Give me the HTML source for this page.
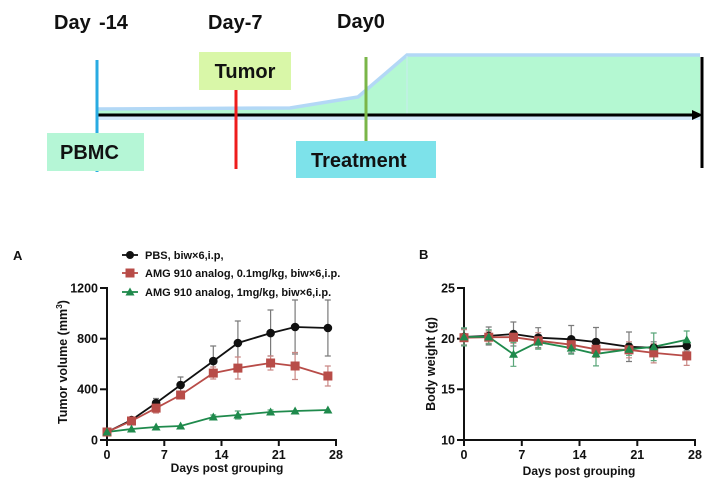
<!DOCTYPE html>
<html><head><meta charset="utf-8"><style>
html,body{margin:0;padding:0;background:#fff;}
svg{display:block;}
text{font-family:"Liberation Sans",Arial,sans-serif;font-weight:bold;}
</style></head><body>
<svg width="724" height="487" viewBox="0 0 724 487" xmlns="http://www.w3.org/2000/svg">
<rect width="724" height="487" fill="#fff"/>
<!-- Timeline -->
<line x1="97" y1="116" x2="700" y2="116" stroke="#d6eafb" stroke-width="8"/>
<polygon points="97,115 97,109 290,108 358,97 407,55 700,55 700,115" fill="#b4f8d2"/>
<polyline points="97,109 290,108 358,97 407,55 700,55" fill="none" stroke="#b3d8f6" stroke-width="3.5"/>
<line x1="407" y1="56" x2="407" y2="114" stroke="#c8ecf0" stroke-width="1"/>
<line x1="97" y1="115" x2="696" y2="115" stroke="#000" stroke-width="3"/>
<polygon points="692,110 703,115 692,120" fill="#000"/>
<line x1="702" y1="57" x2="702" y2="168" stroke="#000" stroke-width="3"/>
<line x1="97" y1="60" x2="97" y2="172" stroke="#29abe2" stroke-width="3"/>
<line x1="236" y1="89" x2="236" y2="169" stroke="#ee1c1c" stroke-width="3"/>
<line x1="366" y1="57" x2="366" y2="141" stroke="#7ab648" stroke-width="3"/>
<rect x="199" y="52" width="92" height="38" fill="#d9f7a8"/>
<rect x="47" y="133" width="97" height="38" fill="#b5f6d6"/>
<rect x="296" y="141" width="140" height="37" fill="#7de2ea"/>
<text x="245" y="78" font-size="20" text-anchor="middle" fill="#111">Tumor</text>
<text x="60" y="159" font-size="20" fill="#111">PBMC</text>
<text x="311" y="167" font-size="20" fill="#111">Treatment</text>
<text x="54" y="29" font-size="20" fill="#111">Day</text>
<text x="99" y="29" font-size="20" fill="#111">-14</text>
<text x="208" y="29" font-size="20" fill="#111">Day-7</text>
<text x="337" y="28" font-size="20" fill="#111">Day0</text>

<!-- Chart A -->
<text x="13" y="260" font-size="13" fill="#111">A</text>
<g stroke="#111" stroke-width="2" fill="none">
<line x1="107" y1="287" x2="107" y2="441"/>
<line x1="106" y1="440" x2="337" y2="440"/>
<line x1="100" y1="288" x2="107" y2="288"/>
<line x1="100" y1="338.7" x2="107" y2="338.7"/>
<line x1="100" y1="389.3" x2="107" y2="389.3"/>
<line x1="100" y1="440" x2="107" y2="440"/>
<line x1="107" y1="440" x2="107" y2="446"/>
<line x1="164.3" y1="440" x2="164.3" y2="446"/>
<line x1="221.5" y1="440" x2="221.5" y2="446"/>
<line x1="278.8" y1="440" x2="278.8" y2="446"/>
<line x1="336" y1="440" x2="336" y2="446"/>
</g>
<g font-size="12.5" fill="#111" text-anchor="end">
<text x="98" y="292.5">1200</text>
<text x="98" y="343">800</text>
<text x="98" y="393.7">400</text>
<text x="98" y="444.5">0</text>
</g>
<g font-size="12.5" fill="#111" text-anchor="middle">
<text x="107" y="459">0</text>
<text x="164.3" y="459">7</text>
<text x="221.5" y="459">14</text>
<text x="278.8" y="459">21</text>
<text x="336" y="459">28</text>
</g>
<text x="227" y="472" font-size="12" text-anchor="middle" fill="#111">Days post grouping</text>
<text transform="translate(67,362) rotate(-90)" font-size="12.5" text-anchor="middle" fill="#111">Tumor volume (mm<tspan font-size="8.5" dy="-5">3</tspan><tspan dy="5">)</tspan></text>

<!-- Legend -->
<g stroke-width="1.8">
<line x1="122" y1="255" x2="138" y2="255" stroke="#111"/>
<circle cx="130" cy="255" r="4" fill="#111"/>
<line x1="122" y1="273" x2="138" y2="273" stroke="#b84c48"/>
<rect x="125.5" y="268.5" width="9" height="9" fill="#b84c48"/>
<line x1="122" y1="292" x2="138" y2="292" stroke="#1f8a4c"/>
<polygon points="130,287.5 134.5,295.5 125.5,295.5" fill="#1f8a4c"/>
</g>
<g font-size="11" fill="#111">
<text x="145" y="259">PBS, biw×6,i.p,</text>
<text x="145" y="277">AMG 910 analog, 0.1mg/kg, biw×6,i.p.</text>
<text x="145" y="296">AMG 910 analog, 1mg/kg, biw×6,i.p.</text>
</g>

<!-- A error bars -->
<g stroke="#7a7a7a" stroke-width="1.2" fill="none">
<path d="M156.1,398.5V407.5M153,398.5h6M153,407.5h6"/>
<path d="M180.6,377V393M177.5,377h6M177.5,393h6"/>
<path d="M213.3,346V376M210.2,346h6M210.2,376h6"/>
<path d="M237.9,321V365M234.8,321h6M234.8,365h6"/>
<path d="M270.6,310V356M267.5,310h6M267.5,356h6"/>
<path d="M295.1,300V354M292,300h6M292,354h6"/>
<path d="M327.9,300V356M324.8,300h6M324.8,356h6"/>
</g>
<g stroke="#c98885" stroke-width="1.2" fill="none">
<path d="M156.1,403V413M153,403h6M153,413h6"/>
<path d="M180.6,392V398M177.5,392h6M177.5,398h6"/>
<path d="M213.3,367V379M210.2,367h6M210.2,379h6"/>
<path d="M237.9,357V379M234.8,357h6M234.8,379h6"/>
<path d="M270.6,356V370M267.5,356h6M267.5,370h6"/>
<path d="M295.1,352.5V379.5M292,352.5h6M292,379.5h6"/>
<path d="M327.9,366V386M324.8,366h6M324.8,386h6"/>
</g>
<g stroke="#5aa67a" stroke-width="1.2" fill="none">
<path d="M213.3,415V419M210.2,415h6"/>
<path d="M237.9,411V419M234.8,411h6M234.8,419h6"/>
<path d="M270.6,410V414M267.5,410h6"/>
</g>
<!-- A lines -->
<polyline points="107,432 131.5,420 156.1,403 180.6,385 213.3,361.1 237.9,343 270.6,333.1 295.1,327 327.9,328" fill="none" stroke="#111" stroke-width="1.8"/>
<polyline points="107,432 131.5,421 156.1,408.1 180.6,395 213.3,373.1 237.9,368.1 270.6,363 295.1,366 327.9,376" fill="none" stroke="#b84c48" stroke-width="1.8"/>
<polyline points="107,432 131.5,429 156.1,427 180.6,426 213.3,417 237.9,415 270.6,412 295.1,411 327.9,410" fill="none" stroke="#1f8a4c" stroke-width="1.8"/>
<g fill="#111">
<circle cx="107" cy="432" r="4.3"/><circle cx="131.5" cy="420" r="4.3"/><circle cx="156.1" cy="403" r="4.3"/><circle cx="180.6" cy="385" r="4.3"/><circle cx="213.3" cy="361.1" r="4.3"/><circle cx="237.9" cy="343" r="4.3"/><circle cx="270.6" cy="333.1" r="4.3"/><circle cx="295.1" cy="327" r="4.3"/><circle cx="327.9" cy="328" r="4.3"/>
</g>
<g fill="#b84c48">
<rect x="102.5" y="427.5" width="9" height="9"/><rect x="127" y="416.5" width="9" height="9"/><rect x="151.6" y="403.6" width="9" height="9"/><rect x="176.1" y="390.5" width="9" height="9"/><rect x="208.8" y="368.6" width="9" height="9"/><rect x="233.4" y="363.6" width="9" height="9"/><rect x="266.1" y="358.5" width="9" height="9"/><rect x="290.6" y="361.5" width="9" height="9"/><rect x="323.4" y="371.5" width="9" height="9"/>
</g>
<g fill="#1f8a4c">
<polygon points="107,427.5 111.5,435.5 102.5,435.5"/><polygon points="131.5,424.5 136,432.5 127,432.5"/><polygon points="156.1,422.5 160.6,430.5 151.6,430.5"/><polygon points="180.6,421.5 185.1,429.5 176.1,429.5"/><polygon points="213.3,412.5 217.8,420.5 208.8,420.5"/><polygon points="237.9,410.5 242.4,418.5 233.4,418.5"/><polygon points="270.6,407.5 275.1,415.5 266.1,415.5"/><polygon points="295.1,406.5 299.6,414.5 290.6,414.5"/><polygon points="327.9,405.5 332.4,413.5 323.4,413.5"/>
</g>

<!-- Chart B -->
<text x="419" y="259" font-size="13" fill="#111">B</text>
<g stroke="#111" stroke-width="2" fill="none">
<line x1="464" y1="287" x2="464" y2="441"/>
<line x1="463" y1="440" x2="696" y2="440"/>
<line x1="457" y1="288" x2="464" y2="288"/>
<line x1="457" y1="338.7" x2="464" y2="338.7"/>
<line x1="457" y1="389.3" x2="464" y2="389.3"/>
<line x1="457" y1="440" x2="464" y2="440"/>
<line x1="464" y1="440" x2="464" y2="446"/>
<line x1="521.8" y1="440" x2="521.8" y2="446"/>
<line x1="579.5" y1="440" x2="579.5" y2="446"/>
<line x1="637.3" y1="440" x2="637.3" y2="446"/>
<line x1="695" y1="440" x2="695" y2="446"/>
</g>
<g font-size="12.5" fill="#111" text-anchor="end">
<text x="455" y="292.5">25</text>
<text x="455" y="343">20</text>
<text x="455" y="393.7">15</text>
<text x="455" y="444.5">10</text>
</g>
<g font-size="12.5" fill="#111" text-anchor="middle">
<text x="464" y="459">0</text>
<text x="521.8" y="459">7</text>
<text x="579.5" y="459">14</text>
<text x="637.3" y="459">21</text>
<text x="695" y="459">28</text>
</g>
<text x="579" y="475" font-size="12" text-anchor="middle" fill="#111">Days post grouping</text>
<text transform="translate(435,364) rotate(-90)" font-size="12.5" text-anchor="middle" fill="#111">Body weight (g)</text>

<!-- B error bars -->
<g stroke="#7a7a7a" stroke-width="1.2" fill="none">
<path d="M464,329V345M461,329h6M461,345h6"/>
<path d="M488.75,327V345M485.7,327h6M485.7,345h6"/>
<path d="M513.5,322V346M510.4,322h6M510.4,346h6"/>
<path d="M538.25,327.7V347.7M535.2,327.7h6M535.2,347.7h6"/>
<path d="M571.25,325.5V353M568.2,325.5h6M568.2,353h6"/>
<path d="M596,327.5V356.5M593,327.5h6M593,356.5h6"/>
<path d="M629,332V361.5M626,332h6M626,361.5h6"/>
<path d="M653.75,341.8V353.8M650.7,341.8h6M650.7,353.8h6"/>
<path d="M686.75,340.8V350.8M683.7,340.8h6M683.7,350.8h6"/>
</g>
<g stroke="#c98885" stroke-width="1.2" fill="none">
<path d="M464,329.7V345.7M461,329.7h6M461,345.7h6"/>
<path d="M488.75,331.2V343.2M485.7,331.2h6M485.7,343.2h6"/>
<path d="M513.5,331.2V343.2M510.4,331.2h6M510.4,343.2h6"/>
<path d="M538.25,332.7V348.7M535.2,332.7h6M535.2,348.7h6"/>
<path d="M571.25,338.7V350.7M568.2,338.7h6M568.2,350.7h6"/>
<path d="M596,341.3V357.3M593,341.3h6M593,357.3h6"/>
<path d="M629,341.8V357.8M626,341.8h6M626,357.8h6"/>
<path d="M653.75,343.9V362.9M650.7,343.9h6M650.7,362.9h6"/>
<path d="M686.75,346.4V365.4M683.7,346.4h6M683.7,365.4h6"/>
</g>
<g stroke="#5aa67a" stroke-width="1.2" fill="none">
<path d="M464,327.9V345.9M461,327.9h6M461,345.9h6"/>
<path d="M488.75,329.9V343.9M485.7,329.9h6M485.7,343.9h6"/>
<path d="M513.5,342.3V366.3M510.4,342.3h6M510.4,366.3h6"/>
<path d="M538.25,335.1V349.1M535.2,335.1h6M535.2,349.1h6"/>
<path d="M571.25,342.1V354.1M568.2,342.1h6M568.2,354.1h6"/>
<path d="M596,341.9V365.9M593,341.9h6M593,365.9h6"/>
<path d="M629,343.3V355.3M626,343.3h6M626,355.3h6"/>
<path d="M653.75,333V360.6M650.7,333h6M650.7,360.6h6"/>
<path d="M686.75,331V348.4M683.7,331h6M683.7,348.4h6"/>
</g>
<!-- B lines -->
<polyline points="464,336.9 488.75,335.9 513.5,334 538.25,337.7 571.25,339.3 596,342 629,346.8 653.75,347.8 686.75,345.8" fill="none" stroke="#111" stroke-width="1.8"/>
<polyline points="464,337.7 488.75,337.2 513.5,337.2 538.25,340.7 571.25,344.7 596,349.3 629,349.8 653.75,352.9 686.75,355.9" fill="none" stroke="#b84c48" stroke-width="1.8"/>
<polyline points="464,336.9 488.75,336.9 513.5,354.3 538.25,342.1 571.25,348.1 596,353.9 629,349.3 653.75,346.8 686.75,339.7" fill="none" stroke="#1f8a4c" stroke-width="1.8"/>
<g fill="#111">
<circle cx="464" cy="336.9" r="4.3"/><circle cx="488.75" cy="335.9" r="4.3"/><circle cx="513.5" cy="334" r="4.3"/><circle cx="538.25" cy="337.7" r="4.3"/><circle cx="571.25" cy="339.3" r="4.3"/><circle cx="596" cy="342" r="4.3"/><circle cx="629" cy="346.8" r="4.3"/><circle cx="653.75" cy="347.8" r="4.3"/><circle cx="686.75" cy="345.8" r="4.3"/>
</g>
<g fill="#b84c48">
<rect x="459.5" y="333.2" width="9" height="9"/><rect x="484.25" y="332.7" width="9" height="9"/><rect x="509" y="332.7" width="9" height="9"/><rect x="533.75" y="336.2" width="9" height="9"/><rect x="566.75" y="340.2" width="9" height="9"/><rect x="591.5" y="344.8" width="9" height="9"/><rect x="624.5" y="345.3" width="9" height="9"/><rect x="649.25" y="348.4" width="9" height="9"/><rect x="682.25" y="351.4" width="9" height="9"/>
</g>
<g fill="#1f8a4c">
<polygon points="464,332.4 468.5,340.4 459.5,340.4"/><polygon points="488.75,332.4 493.25,340.4 484.25,340.4"/><polygon points="513.5,349.8 518,357.8 509,357.8"/><polygon points="538.25,337.6 542.75,345.6 533.75,345.6"/><polygon points="571.25,343.6 575.75,351.6 566.75,351.6"/><polygon points="596,349.4 600.5,357.4 591.5,357.4"/><polygon points="629,344.8 633.5,352.8 624.5,352.8"/><polygon points="653.75,342.3 658.25,350.3 649.25,350.3"/><polygon points="686.75,335.2 691.25,343.2 682.25,343.2"/>
</g>
</svg>
</body></html>
